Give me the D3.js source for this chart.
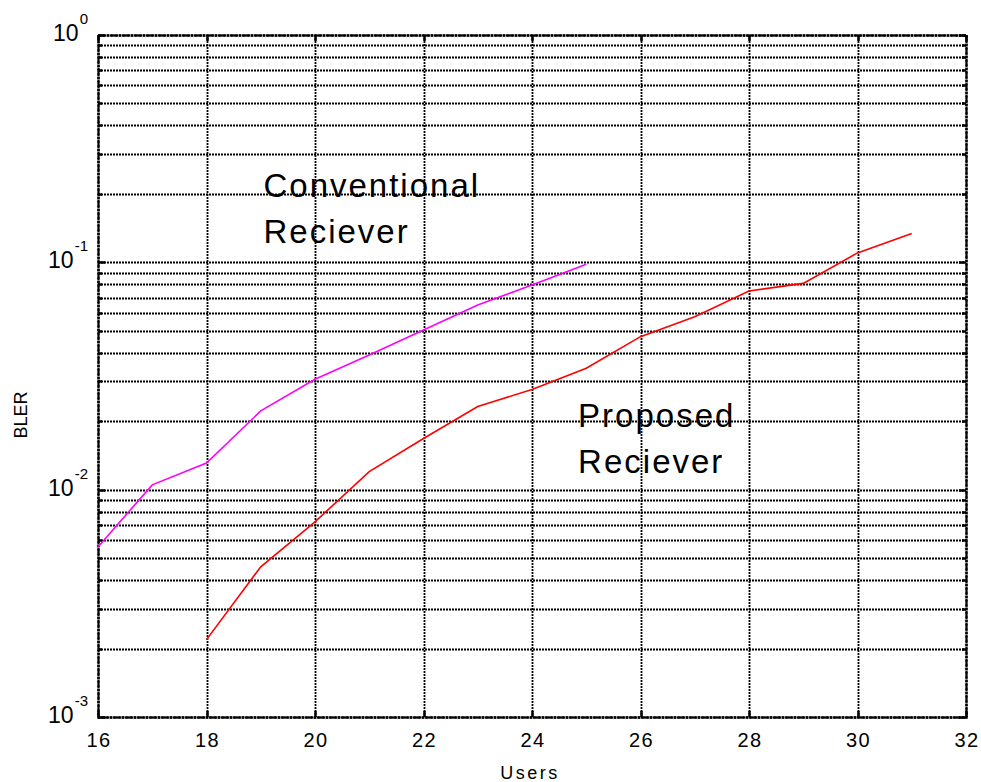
<!DOCTYPE html>
<html>
<head>
<meta charset="utf-8">
<script src="https://cdn.jsdelivr.net/npm/d3@7"></script>
<style>
  body { margin: 0; background: #fff; overflow: hidden; }
  svg { display: block; }
  text { font-family: "Liberation Sans", Arial, sans-serif; fill: #000; }
</style>
</head>
<body>
<svg id="chart"></svg>
<script>
const convX = [16, 17, 18, 19, 20, 21, 22, 23, 24, 25];
const convBler = [0.0056, 0.0105, 0.0131, 0.0222, 0.0306, 0.0391, 0.0504, 0.0649, 0.0794, 0.098];
const propX = [18, 19, 20, 21, 22, 23, 24, 25, 26, 27, 28, 29, 30, 31];
const propBler = [0.00219, 0.00458, 0.00722, 0.012, 0.0168, 0.0232, 0.0276, 0.0342, 0.0471, 0.0576, 0.0748, 0.0808, 0.110, 0.134];
const xTicks = [16, 18, 20, 22, 24, 26, 28, 30, 32];
const yMajor = [1e-3, 1e-2, 1e-1, 1];
const yExp = ["-3", "-2", "-1", "0"];

const width = 981, height = 782;
const svg = d3.select("#chart").attr("width", width).attr("height", height);
const margin = { top: 35, right: 15, bottom: 65, left: 98 };
const innerWidth = width - margin.left - margin.right;
const innerHeight = height - margin.top - margin.bottom;

const xScale = d3.scaleLinear().domain([16, 32]).range([0, innerWidth]);
const yScale = d3.scaleLog().domain([1e-3, 1]).range([innerHeight, 0]);

const g = svg.append("g").attr("transform", `translate(${margin.left},${margin.top})`);

// minor + major log ticks
const yAll = [];
for (let d = -3; d < 0; d++) {
  for (let k = 1; k <= 9; k++) yAll.push(k * Math.pow(10, d));
}
yAll.push(1);

// Grid (dotted, MATLAB style)
const gridStyle = (sel) => sel.attr("stroke", "#000").attr("stroke-width", 1.8).attr("stroke-dasharray", "2,1");
const py = (d) => Math.round(yScale(d)) + 0.5;
const px = (d) => Math.round(xScale(d)) + 0.5;
g.selectAll(".hgrid").data(yAll).join("line")
  .attr("x1", 0).attr("x2", innerWidth)
  .attr("y1", py).attr("y2", py)
  .call(gridStyle);
g.selectAll(".vgrid").data(xTicks).join("line")
  .attr("y1", 0).attr("y2", innerHeight)
  .attr("x1", px).attr("x2", px)
  .call(gridStyle);

// inner tick marks
const tickLen = (d) => (yMajor.includes(d) ? 7 : 4);
g.selectAll(".ytl").data(yAll).join("line")
  .attr("x1", 0).attr("x2", (d) => tickLen(d))
  .attr("y1", py).attr("y2", py)
  .attr("stroke", "#000").attr("stroke-width", 2.5);
g.selectAll(".ytr").data(yAll).join("line")
  .attr("x1", innerWidth).attr("x2", (d) => innerWidth - tickLen(d))
  .attr("y1", py).attr("y2", py)
  .attr("stroke", "#000").attr("stroke-width", 2.5);
g.selectAll(".xtb").data(xTicks).join("line")
  .attr("x1", px).attr("x2", px)
  .attr("y1", innerHeight).attr("y2", innerHeight - 6)
  .attr("stroke", "#000").attr("stroke-width", 2.5);
g.selectAll(".xtt").data(xTicks).join("line")
  .attr("x1", px).attr("x2", px)
  .attr("y1", 0).attr("y2", 6)
  .attr("stroke", "#000").attr("stroke-width", 2.5);

// Box
g.append("rect").attr("x", 0.5).attr("y", 0.5)
  .attr("width", innerWidth).attr("height", innerHeight)
  .attr("fill", "none").attr("stroke", "#000").attr("stroke-width", 2.5).attr("stroke-dasharray", "3,1");

// Lines
const line = d3.line().x((d) => xScale(d[0])).y((d) => yScale(d[1]));
g.append("path").attr("d", line(d3.zip(convX, convBler)))
  .attr("fill", "none").attr("stroke", "#ff00ff").attr("stroke-width", 1.6);
g.append("path").attr("d", line(d3.zip(propX, propBler)))
  .attr("fill", "none").attr("stroke", "#ff0000").attr("stroke-width", 1.6);

// x tick labels
g.selectAll(".xlab").data(xTicks).join("text")
  .attr("x", (d) => xScale(d)).attr("y", innerHeight + 30).attr("dx", 1)
  .attr("text-anchor", "middle").attr("font-size", 20).attr("letter-spacing", 1.5)
  .text((d) => d);

// y tick labels (10^n)
yMajor.forEach((d, i) => {
  const t = g.append("text")
    .attr("x", -10).attr("y", yScale(d) + 6)
    .attr("text-anchor", "end").attr("font-size", 23);
  t.append("tspan").text("10");
  t.append("tspan").attr("dy", -17).attr("dx", 1).attr("font-size", 15).text(yExp[i]);
});

// Axis titles
g.append("text").attr("x", innerWidth / 2 - 2).attr("y", innerHeight + 62)
  .attr("text-anchor", "middle").attr("font-size", 18).attr("letter-spacing", 2.5).text("Users");
g.append("text").attr("transform", "rotate(-90)")
  .attr("x", -(415 - margin.top)).attr("y", -71)
  .attr("text-anchor", "middle").attr("font-size", 18).text("BLER");

// Annotations
const note = (x, y, lines) => {
  const t = g.append("text").attr("font-size", 33).attr("letter-spacing", 2);
  lines.forEach((s, i) => {
    t.append("tspan").attr("x", xScale(x)).attr("y", yScale(y) + i * 46).text(s);
  });
};
note(19.05, 0.193, ["Conventional", "Reciever"]);
note(24.85, 0.0189, ["Proposed", "Reciever"]);
</script>
</body>
</html>
